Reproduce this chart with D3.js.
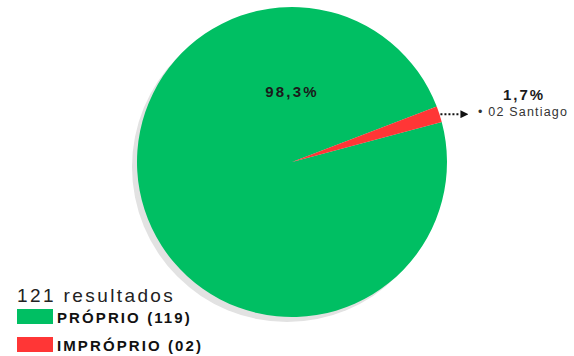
<!DOCTYPE html>
<html>
<head>
<meta charset="utf-8">
<script src="https://cdn.jsdelivr.net/npm/d3@7"></script>
<style>
  body { margin: 0; background: #fff; }
  text { font-family: "Liberation Sans", Arial, sans-serif; }
</style>
</head>
<body>
<div id="chart-area"></div>
<script>
const WIDTH = 574
const HEIGHT = 356

// data
const categories = ["PRÓPRIO", "IMPRÓPRIO"]
const counts = [119, 2]
const countLabels = ["119", "02"]
const percentLabels = ["98,3%", "1,7%"]
const colors = ["#00bf63", "#ff3636"]
const total = 121
const noteText = "• 02 Santiago"

const CX = 292, CY = 162, R = 155

const svg = d3.select("#chart-area").append("svg")
  .attr("width", WIDTH)
  .attr("height", HEIGHT)

const data = categories.map((c, i) => ({ name: c, value: counts[i], i: i }))

// red slice sits at ~69-75 deg from 12 o'clock
const start = 75 * Math.PI / 180
const pie = d3.pie()
  .sort(null)
  .value(d => d.value)
  .startAngle(start)
  .endAngle(start + 2 * Math.PI)

const arc = d3.arc().innerRadius(0).outerRadius(R)

// shadow
svg.append("circle")
  .attr("cx", CX - 5)
  .attr("cy", CY + 5)
  .attr("r", R)
  .attr("fill", "#e2e2e2")

const g = svg.append("g")
  .attr("transform", `translate(${CX}, ${CY})`)

const arcs = pie(data)

g.selectAll("path")
  .data(arcs)
  .enter().append("path")
  .attr("d", arc)
  .attr("fill", d => colors[d.data.i])

// big label
g.append("text")
  .attr("x", 0)
  .attr("y", -65)
  .attr("text-anchor", "middle")
  .attr("font-size", "15px")
  .attr("font-weight", "bold")
  .attr("letter-spacing", "2.2px")
  .attr("fill", "#1a1a1a")
  .text(percentLabels[0])

// small slice callout
const red = arcs[1]
const mid = (red.startAngle + red.endAngle) / 2
const ex = Math.sin(mid) * R + 1
const ey = -Math.cos(mid) * R

svg.append("defs").append("marker")
  .attr("id", "arrow")
  .attr("viewBox", "0 0 10 10")
  .attr("refX", 0)
  .attr("refY", 5)
  .attr("markerWidth", 4)
  .attr("markerHeight", 4)
  .attr("orient", "auto")
  .append("path")
  .attr("d", "M0,0 L10,5 L0,10 Z")
  .attr("fill", "#111")

g.append("line")
  .attr("x1", ex)
  .attr("y1", ey)
  .attr("x2", ex + 20)
  .attr("y2", ey)
  .attr("stroke", "#111")
  .attr("stroke-width", 2)
  .attr("stroke-dasharray", "2,2")
  .attr("marker-end", "url(#arrow)")

svg.append("text")
  .attr("x", 524)
  .attr("y", 100)
  .attr("text-anchor", "middle")
  .attr("font-size", "15px")
  .attr("font-weight", "bold")
  .attr("letter-spacing", "2px")
  .attr("fill", "#1a1a1a")
  .text(percentLabels[1])

svg.append("text")
  .attr("x", 478)
  .attr("y", 116)
  .attr("font-size", "12.5px")
  .attr("letter-spacing", "1.2px")
  .attr("fill", "#333")
  .text(noteText)

// legend
svg.append("text")
  .attr("x", 17)
  .attr("y", 302)
  .attr("font-size", "19px")
  .attr("letter-spacing", "2.4px")
  .attr("fill", "#222")
  .text(total + " resultados")

const legend = svg.selectAll(".legend")
  .data(data)
  .enter().append("g")
  .attr("class", "legend")
  .attr("transform", (d, i) => `translate(17, ${309 + i * 28})`)

legend.append("rect")
  .attr("width", 36)
  .attr("height", 15)
  .attr("fill", d => colors[d.i])

legend.append("text")
  .attr("x", 40)
  .attr("y", 14)
  .attr("font-size", "15px")
  .attr("font-weight", "bold")
  .attr("letter-spacing", "2.1px")
  .attr("fill", "#111")
  .text(d => `${d.name} (${countLabels[d.i]})`)
</script>
</body>
</html>
